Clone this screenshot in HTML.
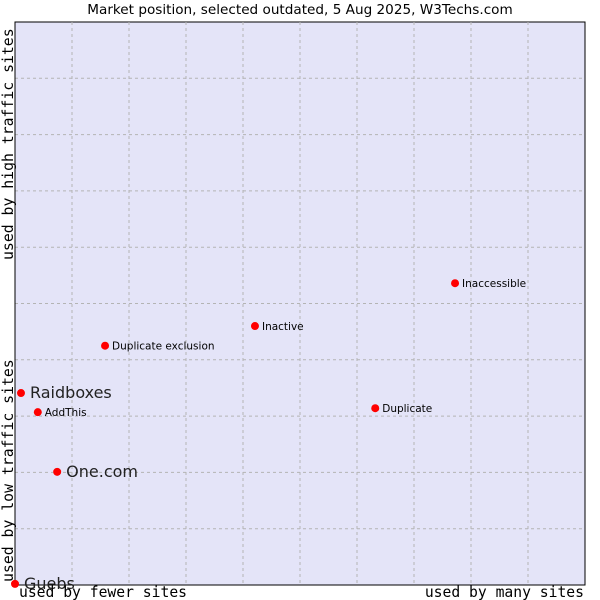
<!DOCTYPE html>
<html><head><meta charset="utf-8"><style>
body{margin:0;background:#fff;width:600px;height:600px;overflow:hidden}
svg{display:block}
</style></head><body>
<svg width="600" height="600">
<text x="300" y="14" text-anchor="middle" font-family="DejaVu Sans, sans-serif" font-size="13.6" fill="#000">Market position, selected outdated, 5 Aug 2025, W3Techs.com</text>
<rect x="15" y="22" width="570" height="563" fill="#e4e4f8" stroke="#000" stroke-width="1"/>
<g id="grid"></g>
<line x1="15" y1="22" x2="15" y2="585" stroke="#000"/>
<line x1="15" y1="585" x2="585" y2="585" stroke="#000"/>
<g id="points"></g>
<text x="19" y="597" font-family="DejaVu Sans Mono, monospace" font-size="14.7">used by fewer sites</text>
<text x="584" y="597" text-anchor="end" font-family="DejaVu Sans Mono, monospace" font-size="14.7">used by many sites</text>
<text transform="translate(13,582) rotate(-90)" font-family="DejaVu Sans Mono, monospace" font-size="14.8">used by low traffic sites</text>
<text transform="translate(13,260) rotate(-90)" font-family="DejaVu Sans Mono, monospace" font-size="14.8">used by high traffic sites</text>
</svg>
<script>
const names=["Raidboxes","AddThis","One.com","Guebs","Duplicate exclusion","Inactive","Inaccessible","Duplicate"];
const xVals=[1.05,4,7.4,0,15.8,42.1,77.2,63.2];
const yVals=[34.1,30.7,20.1,0.2,42.5,46.0,53.6,31.4];
const bigLabel=[true,false,true,true,false,false,false,false];
const NS="http://www.w3.org/2000/svg";
const L=15,R=585,T=22,B=585;
const sx=v=>L+v/100*(R-L);
const sy=v=>B-v/100*(B-T);
const grid=document.getElementById('grid');
for(let i=1;i<10;i++){
  const x=sx(i*10),y=sy(i*10);
  const a=document.createElementNS(NS,'line');
  a.setAttribute('x1',x);a.setAttribute('x2',x);a.setAttribute('y1',T);a.setAttribute('y2',B);
  a.setAttribute('stroke','#b4b4b4');a.setAttribute('stroke-dasharray','3,3');
  
  
  grid.appendChild(a);
  const b=document.createElementNS(NS,'line');
  b.setAttribute('x1',L);b.setAttribute('x2',R);b.setAttribute('y1',y);b.setAttribute('y2',y);
  b.setAttribute('stroke','#b4b4b4');b.setAttribute('stroke-dasharray','3,3');
  
  
  grid.appendChild(b);
}
const pts=document.getElementById('points');
names.forEach((n,i)=>{
  const x=sx(xVals[i]),y=sy(yVals[i]);
  const c=document.createElementNS(NS,'circle');
  c.setAttribute('cx',x);c.setAttribute('cy',y);c.setAttribute('r',4);c.setAttribute('fill','#f00');
  
  
  pts.appendChild(c);
  const t=document.createElementNS(NS,'text');
  t.setAttribute('x',x+(bigLabel[i]?9:7));t.setAttribute('y',y+(bigLabel[i]?5:4));
  t.setAttribute('font-family','DejaVu Sans, sans-serif');
  t.setAttribute('font-size',bigLabel[i]?16:10.5);
  t.setAttribute('fill',bigLabel[i]?'#222':'#000');
  t.textContent=n;
  
  
  pts.appendChild(t);
});
</script>
</body></html>
